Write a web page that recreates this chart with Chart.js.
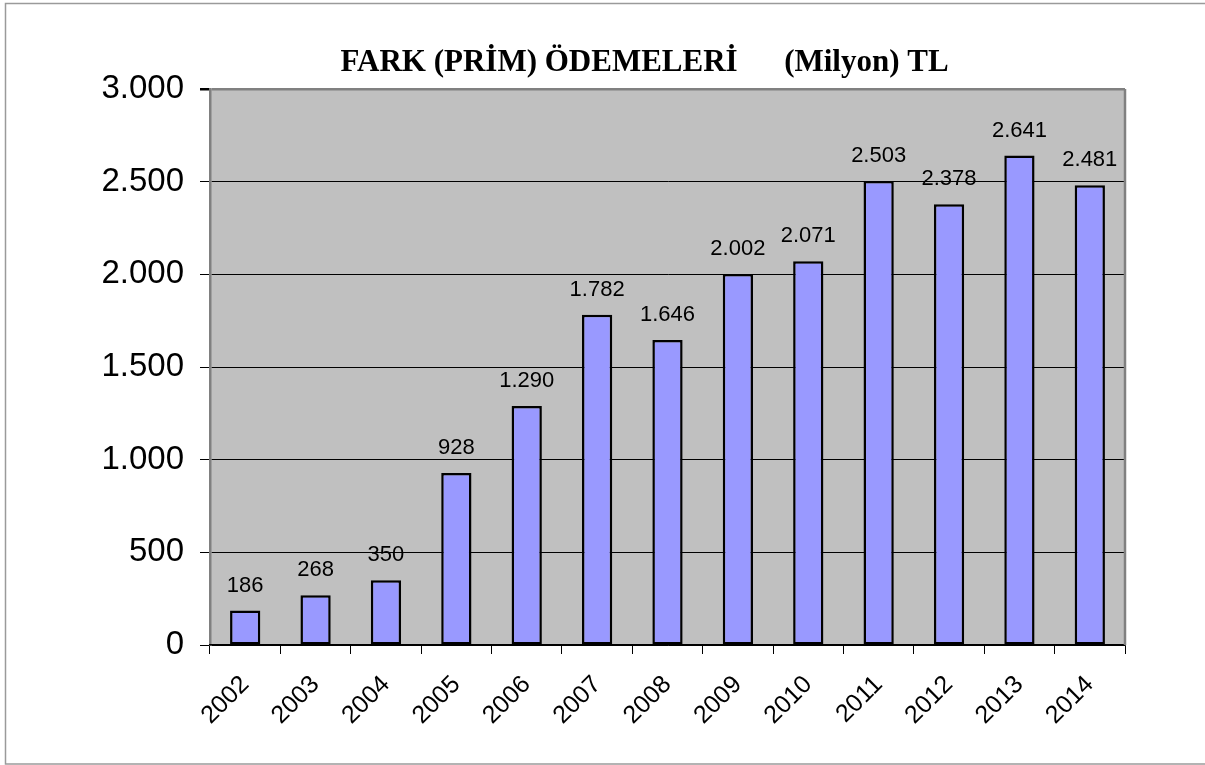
<!DOCTYPE html>
<html>
<head>
<meta charset="utf-8">
<title>Fark (Prim) Ödemeleri</title>
<script src="https://cdn.jsdelivr.net/npm/chart.js@4.4.1/dist/chart.umd.min.js"></script>
<style>
	body { margin:0; background:#FFFFFF; }
	#divGrafico { width:1205px; height:765px; }
</style>
</head>
<body onload="Inicio()">
<div id="divGrafico"><canvas id="grafFark" width="1205" height="765"></canvas></div>
<script>
//	Datos del grafico: pagos de diferencia (prima), millones TL
var Anyos=['2002','2003','2004','2005','2006','2007','2008','2009','2010','2011','2012','2013','2014'];
var Pagos=[186,268,350,928,1290,1782,1646,2002,2071,2503,2378,2641,2481];
var EtiquetasPagos=['186','268','350','928','1.290','1.782','1.646','2.002','2.071','2.503','2.378','2.641','2.481'];
var EtiquetasEjeY=['0','500','1.000','1.500','2.000','2.500','3.000'];
var Titulo='FARK (PRİM) ÖDEMELERİ      (Milyon) TL';

var myChart;

//	funcion a ejecutar al cargarse la pagina
function Inicio()
{
	PresentaGrafico();
}


//	Fondo gris del area, marco exterior y borde derecho
var pluginFondo={
	id:'fondo',
	beforeDraw: function(chart)
	{
		var ctx=chart.ctx, a=chart.chartArea;
		ctx.save();
		ctx.fillStyle='#FFFFFF';
		ctx.fillRect(0,0,chart.width,chart.height);
		ctx.strokeStyle='#9A9A9A';
		ctx.lineWidth=1.5;
		ctx.strokeRect(5.5,3.5,1220,760.5);
		ctx.fillStyle='#C0C0C0';
		ctx.fillRect(a.left,a.top,a.right-a.left,a.bottom-a.top);
		ctx.restore();
	},
	afterDraw: function(chart)
	{
		var ctx=chart.ctx, a=chart.chartArea;
		ctx.save();
		ctx.strokeStyle='#808080';
		ctx.lineWidth=2.5;
		ctx.beginPath();
		ctx.moveTo(a.right,a.top);
		ctx.lineTo(a.right,a.bottom);
		ctx.stroke();

		//	titulo
		ctx.fillStyle='#000000';
		ctx.font='bold 31px "Liberation Serif", "Times New Roman", serif';
		ctx.textAlign='center';
		ctx.textBaseline='middle';
		ctx.fillText(Titulo,(a.left+a.right)/2-23,63);
		ctx.restore();
	}
};


//	Etiquetas de valor encima de cada barra
var pluginEtiquetas={
	id:'etiquetas',
	afterDatasetsDraw: function(chart)
	{
		var ctx=chart.ctx;
		var meta=chart.getDatasetMeta(0);
		ctx.save();
		ctx.fillStyle='#000000';
		ctx.font='22px "Liberation Sans", Arial, sans-serif';
		ctx.textAlign='center';
		ctx.textBaseline='middle';
		for (var i=0;i<meta.data.length;++i)
		{
			var bar=meta.data[i];
			ctx.fillText(EtiquetasPagos[i],bar.x,bar.y-25);
		}
		ctx.restore();
	}
};


//	Prepara el grafico
function PresentaGrafico()
{
	var ctx=document.getElementById('grafFark').getContext('2d');

	if (myChart)
		myChart.destroy();

	myChart=new Chart(ctx, {
		type:'bar',
		data: {
			labels: Anyos,
			datasets: [{
				data: Pagos,
				backgroundColor:'#9999FF',
				borderColor:'#000000',
				borderWidth:2.5,
				borderSkipped:false,
				barPercentage:0.43,
				categoryPercentage:1
			}]
		},
		options: {
			responsive:false,
			animation:false,
			layout: { padding: { left:0, top:89, right:80, bottom:0 } },
			plugins: {
				legend: { display:false },
				tooltip: { enabled:false }
			},
			scales: {
				y: {
					min:0,
					max:3000,
					afterFit: function(scale) { scale.width=210; },
					ticks: {
						stepSize:500,
						color:'#000000',
						padding:16,
						font: { family:'"Liberation Sans", Arial, sans-serif', size:33 },
						callback: function(value, index) { return EtiquetasEjeY[index]; }
					},
					grid: {
						color: function(c) { return c.tick && c.tick.value===3000 ? '#808080' : '#000000'; },
						lineWidth: function(c) { return c.tick && c.tick.value===3000 ? 2.5 : 1; },
						tickLength:10,
						tickColor:'#000000'
					},
					border: { color:'#808080', width:2.5 }
				},
				x: {
					afterFit: function(scale) { scale.height=120; },
					ticks: {
						color:'#000000',
						minRotation:45,
						maxRotation:45,
						padding:16,
						font: { family:'"Liberation Sans", Arial, sans-serif', size:25 }
					},
					grid: {
						offset:true,
						drawOnChartArea:false,
						tickLength:9,
						color:'#000000'
					},
					border: { color:'#000000', width:1.5 }
				}
			}
		},
		plugins: [pluginFondo, pluginEtiquetas]
	});
}
</script>
</body>
</html>
